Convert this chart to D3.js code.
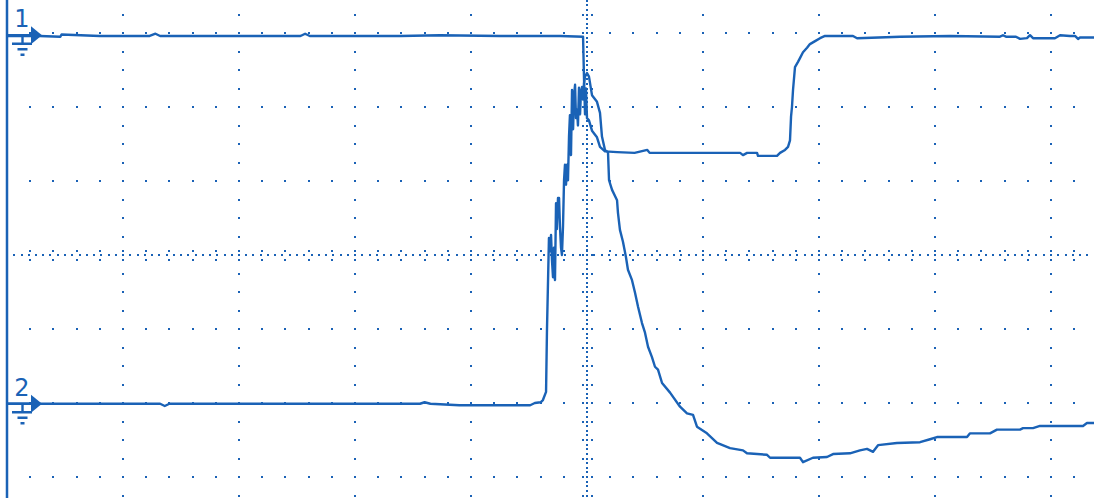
<!DOCTYPE html>
<html>
<head>
<meta charset="utf-8">
<script src="https://cdn.jsdelivr.net/npm/d3@7"></script>
<style>
  html, body { margin: 0; padding: 0; background: #fff; }
  svg { display: block; }
</style>
</head>
<body>
<div id="scope"></div>
<script>
// time in divisions, voltage in divisions from screen centre
const ch1T = [0, 0.28, 0.46, 0.47, 0.80, 1.23, 1.28, 1.32, 1.92, 2.53, 2.57, 2.61, 3.39, 3.73, 4.25, 4.77,
              4.966, 4.974, 4.983, 4.991, 5.0, 5.017, 5.043, 5.086, 5.112, 5.155, 5.26, 5.41, 5.52, 5.54, 5.97,
              6.32, 6.345, 6.38, 6.466, 6.474, 6.638, 6.664, 6.707, 6.733, 6.750, 6.759, 6.767, 6.776, 6.793,
              6.819, 6.836, 6.862, 6.897, 6.922, 6.966, 7.009, 7.052, 7.293, 7.328, 7.70, 8.13, 8.56, 8.586,
              8.612, 8.698, 8.733, 8.793, 8.819, 8.845, 9.034, 9.078, 9.164, 9.207, 9.233, 9.25, 9.371];
const ch1V = [2.96, 2.96, 2.95, 2.98, 2.96, 2.96, 2.99, 2.96, 2.96, 2.96, 2.99, 2.96, 2.96, 2.97, 2.96, 2.96,
              2.95, 2.40, 1.90, 2.25, 1.85, 1.82, 1.68, 1.59, 1.46, 1.40, 1.39, 1.38, 1.42, 1.38, 1.38,
              1.38, 1.35, 1.38, 1.38, 1.34, 1.34, 1.38, 1.42, 1.46, 1.55, 1.87, 2.00, 2.23, 2.54,
              2.61, 2.66, 2.74, 2.80, 2.85, 2.89, 2.93, 2.96, 2.96, 2.93, 2.95, 2.96, 2.95, 2.97,
              2.95, 2.95, 2.92, 2.93, 2.97, 2.93, 2.93, 2.97, 2.96, 2.96, 2.92, 2.94, 2.94];

const ch2T = [0, 0.80, 1.32, 1.36, 1.40, 2.53, 3.56, 3.60, 3.65, 3.90, 4.51, 4.55, 4.60, 4.62, 4.647, 4.655,
              4.672, 4.68, 4.69, 4.698, 4.707, 4.715, 4.724, 4.733, 4.74, 4.75, 4.759, 4.767, 4.776, 4.784,
              4.793, 4.802, 4.81, 4.819, 4.828, 4.836, 4.845, 4.853, 4.862, 4.871, 4.88, 4.888, 4.897, 4.905,
              4.914, 4.922, 4.931, 4.94, 4.948, 4.957, 4.966, 4.974, 4.983,
              5.0, 5.017, 5.043, 5.086, 5.112, 5.129, 5.155, 5.181, 5.19, 5.216, 5.259, 5.267, 5.284, 5.31,
              5.336, 5.353, 5.388, 5.414, 5.44, 5.474, 5.5, 5.526, 5.56, 5.586, 5.612, 5.647, 5.716, 5.802,
              5.862, 5.914, 5.948, 6.034, 6.121, 6.233, 6.345, 6.379, 6.552, 6.578, 6.836, 6.862, 6.948,
              7.069, 7.121, 7.267, 7.353, 7.414, 7.466, 7.509, 7.672, 7.871, 7.957, 8.017, 8.276, 8.302,
              8.474, 8.534, 8.733, 8.759, 8.845, 8.905, 9.276, 9.31, 9.371];
const ch2V = [-2.01, -2.01, -2.01, -2.04, -2.01, -2.01, -2.01, -1.99, -2.01, -2.03, -2.03, -2.00, -1.99, -1.96, -1.85, -1.01,
              0.23, 0.05, 0.27, -0.07, -0.30, 0.10, -0.34, 0.70, 0.35, 0.77, 0.77, 0.38, 0.10, 0.0,
              0.38, 1.01, 1.22, 0.95, 1.22, 1.01, 1.60, 1.89, 1.35, 2.23, 1.70, 2.15, 2.30, 1.85,
              1.96, 1.75, 2.26, 1.90, 2.20, 2.27, 2.10, 2.32, 2.41,
              2.46, 2.41, 2.16, 2.07, 1.92, 1.60, 1.42, 1.39, 1.01, 0.88, 0.74, 0.57, 0.34, 0.18,
              -0.03, -0.20, -0.34, -0.51, -0.70, -0.92, -1.05, -1.24, -1.38, -1.51, -1.55, -1.73, -1.86, -2.05,
              -2.14, -2.16, -2.32, -2.41, -2.54, -2.61, -2.64, -2.68, -2.70, -2.74, -2.74, -2.80, -2.74,
              -2.73, -2.69, -2.68, -2.64, -2.62, -2.66, -2.57, -2.54, -2.53, -2.49, -2.46, -2.46, -2.41,
              -2.41, -2.36, -2.36, -2.34, -2.34, -2.31, -2.31, -2.27, -2.27];

const channelLabels = ['1', '2'];
const groundLevels = [2.97, -2.01];

const timeDivs = d3.range(0, 10);       // vertical grid lines
const voltDivs = d3.range(-3, 4);       // horizontal grid lines

document.addEventListener('DOMContentLoaded', () => {
    const width = 1094,
          height = 498;
    const blue = '#1a62b6';

    const svg = d3.select('#scope')
                  .append('svg')
                  .attr('width', width)
                  .attr('height', height);

    // 116 px per time division, 74 px per volt division
    const xScale = d3.scaleLinear()
                     .domain([0, 10])
                     .range([7, 1167]);
    const yScale = d3.scaleLinear()
                     .domain([-4, 4])
                     .range([551, -41]);

    // dotted graticule
    const dots = [];
    voltDivs.filter(v => v !== 0).forEach(v => {
        d3.range(1, 48).forEach(i => dots.push([i * 0.2, v]));
    });
    timeDivs.filter(t => t !== 0 && t !== 5).forEach(t => {
        d3.range(-16, 17).forEach(i => dots.push([t, i * 0.25]));
    });
    // centre horizontal line: dense dots plus ticks
    d3.range(1, 150).forEach(i => dots.push([i / 16, 0]));
    const hTicks = d3.range(1, 48).map(i => i * 0.2);
    // centre vertical line
    d3.range(-64, 65).forEach(i => dots.push([5, i / 16]));
    const vTicks = d3.range(-16, 17).map(i => i * 0.25);

    const grid = svg.append('g')
                    .attr('fill', blue)
                    .attr('shape-rendering', 'crispEdges');

    grid.selectAll('rect.dot')
        .data(dots)
        .enter()
        .append('rect')
        .attr('class', 'dot')
        .attr('x', d => Math.round(xScale(d[0])) - 1)
        .attr('y', d => Math.round(yScale(d[1])) - 1)
        .attr('width', 2)
        .attr('height', 2);

    grid.selectAll('rect.htick')
        .data(hTicks.flatMap(t => [[t, -4.5], [t, 4.5]]))
        .enter()
        .append('rect')
        .attr('class', 'htick')
        .attr('x', d => Math.round(xScale(d[0])) - 1)
        .attr('y', d => Math.round(yScale(0) + d[1]) - 1)
        .attr('width', 2)
        .attr('height', 2);

    grid.selectAll('rect.vtick')
        .data(vTicks.flatMap(v => [[v, -4.5], [v, 4.5]]))
        .enter()
        .append('rect')
        .attr('class', 'vtick')
        .attr('x', d => Math.round(xScale(5) + d[1]) - 1)
        .attr('y', d => Math.round(yScale(d[0])) - 1)
        .attr('width', 2)
        .attr('height', 2);

    // left edge of the screen
    svg.append('line')
       .attr('x1', xScale(0))
       .attr('x2', xScale(0))
       .attr('y1', 0)
       .attr('y2', height)
       .attr('stroke', blue)
       .attr('stroke-width', 2.5);

    // traces
    const line = d3.line()
                   .x(d => xScale(d[0]))
                   .y(d => yScale(d[1]));

    const traces = [d3.zip(ch1T, ch1V), d3.zip(ch2T, ch2V)];
    svg.selectAll('path.trace')
       .data(traces)
       .enter()
       .append('path')
       .attr('class', 'trace')
       .attr('d', line)
       .attr('fill', 'none')
       .attr('stroke', blue)
       .attr('stroke-width', 2.4)
       .attr('stroke-linejoin', 'round');

    // channel ground markers
    const marker = svg.selectAll('g.marker')
                      .data(groundLevels)
                      .enter()
                      .append('g')
                      .attr('class', 'marker')
                      .attr('transform', d => 'translate(0,' + yScale(d) + ')');

    marker.append('line')
          .attr('x1', xScale(0))
          .attr('x2', 34)
          .attr('y1', 0)
          .attr('y2', 0)
          .attr('stroke', blue)
          .attr('stroke-width', 2.5);
    marker.append('path')
          .attr('d', 'M31,-9L42,0L31,9Z')
          .attr('fill', blue);
    marker.append('path')
          .attr('d', 'M22.5,0V8.5M12,8.5H32M17.5,14H27.5M20.5,19.5H24.5')
          .attr('stroke', blue)
          .attr('stroke-width', 2.4)
          .attr('fill', 'none');
    marker.append('text')
          .text((d, i) => channelLabels[i])
          .attr('x', 22)
          .attr('y', -8)
          .attr('text-anchor', 'middle')
          .attr('font-family', 'DejaVu Sans, sans-serif')
          .attr('font-size', 24)
          .attr('fill', blue);
});
</script>
</body>
</html>
